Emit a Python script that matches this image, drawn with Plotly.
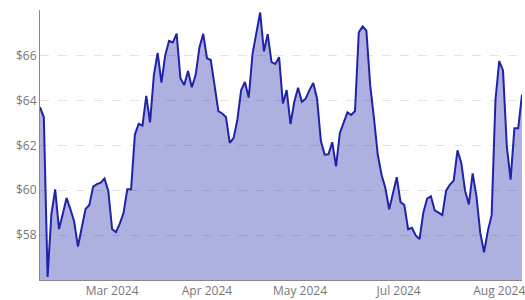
import plotly.graph_objects as go

# Closing prices (one value per trading session)
prices = [
    63.70, 63.26, 56.14, 58.94, 60.04, 58.27, 58.94, 59.66, 59.16, 58.61,
    57.49, 58.35, 59.16, 59.34, 60.16, 60.27, 60.34, 60.52, 59.97, 58.27,
    58.13, 58.50, 58.98, 60.04, 60.04, 62.48, 62.96, 62.88, 64.20, 63.02,
    65.13, 66.12, 64.79, 66.02, 66.65, 66.58, 66.98, 64.99, 64.69, 65.31,
    64.59, 65.13, 66.35, 66.97, 65.88, 65.80, 64.69, 63.52, 63.42, 63.26,
    62.11, 62.32, 63.13, 64.46, 64.82, 64.12, 66.08, 66.96, 67.92, 66.18,
    66.96, 65.71, 65.63, 65.93, 63.86, 64.46, 62.95, 63.94, 64.56, 63.94,
    64.08, 64.46, 64.78, 64.08, 62.20, 61.58, 61.60, 62.14, 61.06, 62.54,
    62.98, 63.47, 63.35, 63.53, 67.04, 67.30, 67.11, 64.68, 63.20, 61.58,
    60.69, 60.10, 59.15, 59.88, 60.58, 59.47, 59.34, 58.26, 58.33, 57.99,
    57.82, 59.00, 59.63, 59.73, 59.10, 59.00, 58.89, 59.98, 60.25, 60.43,
    61.78, 61.21, 59.98, 59.37, 60.75, 59.73, 58.11, 57.23, 58.19, 58.89,
    64.01, 65.75, 65.34, 61.95, 60.47, 62.76, 62.76, 64.26,
]
sessions = list(range(len(prices)))

# Month tick labels and the session index where each month begins
month_labels = ["Mar 2024", "Apr 2024", "May 2024", "Jul 2024", "Aug 2024"]
month_sessions = [19, 44, 68.5, 94.5, 121]

# Price axis ticks
price_ticks = [58, 60, 62, 64, 66, 68]
price_labels = ["$58", "$60", "$62", "$64", "$66", ""]

LINE = "#1f23a8"
FILL = "rgba(31,35,168,0.36)"
AXIS = "#888888"
TEXT = "#777777"

fig = go.Figure(
    go.Scatter(
        x=sessions,
        y=prices,
        mode="lines",
        line=dict(color=LINE, width=2),
        fill="tozeroy",
        fillcolor=FILL,
        hoverinfo="skip",
    )
)

fig.update_layout(
    width=525,
    height=300,
    margin=dict(l=40, r=0, t=10, b=20),
    paper_bgcolor="white",
    plot_bgcolor="white",
    showlegend=False,
    font=dict(family="Open Sans, sans-serif", size=12, color=TEXT),
)

fig.update_xaxes(
    range=[0, len(prices) - 1],
    tickmode="array",
    tickvals=month_sessions,
    ticktext=month_labels,
    showgrid=False,
    zeroline=False,
    showline=True,
    linecolor=AXIS,
    linewidth=1,
    ticks="",
    ticklabeloverflow="allow",
    tickfont=dict(color=TEXT, size=12),
)

fig.update_yaxes(
    range=[56.0, 68.03],
    tickmode="array",
    tickvals=price_ticks,
    ticktext=price_labels,
    showgrid=True,
    gridcolor="#e3e3e3",
    griddash="dash",
    gridwidth=1,
    zeroline=False,
    showline=True,
    linecolor=AXIS,
    linewidth=1,
    ticks="",
    tickfont=dict(color=TEXT, size=12),
)

fig.write_html("out.html")
